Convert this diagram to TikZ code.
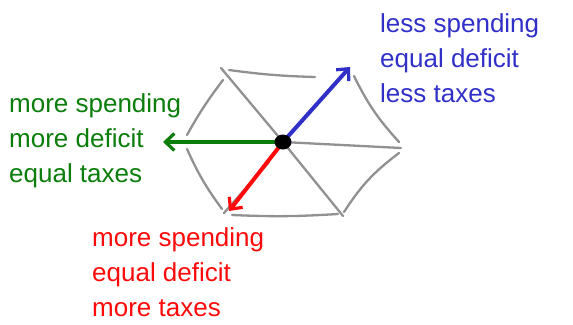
\documentclass[tikz,border=0pt]{standalone}
\usepackage{fontspec}
\setmainfont{Liberation Sans}
\usetikzlibrary{arrows.meta,calc,shapes.geometric}
\definecolor{hblue}{RGB}{48,48,200}
\definecolor{hgreen}{RGB}{10,125,10}
\definecolor{hred}{RGB}{255,10,10}
\definecolor{hgray}{RGB}{145,145,145}
\tikzset{
  edge/.style={draw=hgray, line width=2.3pt, line cap=round},
  vec/.style={line width=4pt, line cap=round, -{Straight Barb[length=9pt,width=17pt,line width=3.2pt]}},
  label/.style={font=\fontsize{26}{35}\selectfont, align=left, anchor=west, inner sep=0pt}
}
\begin{document}
\begin{tikzpicture}[x=1pt,y=-1pt]
\useasboundingbox (0,0) rectangle (573,324);
% hexagon vertices
\coordinate (c) at (283,142);
\coordinate (tl) at (221,68);
\coordinate (tr) at (350,72);
\coordinate (r) at (401,148);
\coordinate (br) at (343,216);
\coordinate (bl) at (224,213);
\coordinate (l) at (186,142);
% rim
\draw[edge] ($(tl)+(8,2)$) to[bend right=3] ($(tr)+(-35,5)$);
\draw[edge] ($(tr)+(4,4)$) to[bend right=8] ($(r)+(-2,-6)$);
\draw[edge] ($(r)+(-2,5)$) to[bend right=10] ($(br)+(1,-4)$);
\draw[edge] ($(br)+(-5,-2)$) to[bend left=3] ($(bl)+(8,2)$);
\draw[edge] ($(bl)+(-2,-4)$) to[bend left=6] ($(l)+(1,7)$);
\draw[edge] ($(l)+(1,-7)$) to[bend left=4] ($(tl)+(2,12)$);
% spokes
\draw[edge] (c) -- (tl);
\draw[edge] (c) -- (br);
\draw[edge] (c) -- (r);
\draw[edge] (c) -- ($(l)+(20,0)$);
\draw[edge] ($(c)+(-14,20)$) -- (bl);
% vectors
\coordinate (gt) at (163,142);
\coordinate (bt) at (350,67);
\coordinate (rt) at (229,211);
\draw[vec, hgreen] (c) -- (gt);
\draw[vec, hblue] (c) -- (bt);
\draw[vec, hred] (c) -- (rt);
\node[fill=black, ellipse, minimum width=17pt, minimum height=15pt, inner sep=0pt] (dot) at (c) {};
% labels
\node[label, text=hblue] (blue) at (380,58) {less spending\\equal deficit\\less taxes};
\node[label, text=hgreen] (green) at (9,141) {more spending\\more deficit\\equal taxes};
\node[label, text=hred] (red) at (92,272) {more spending\\equal deficit\\more taxes};
\end{tikzpicture}
\end{document}
